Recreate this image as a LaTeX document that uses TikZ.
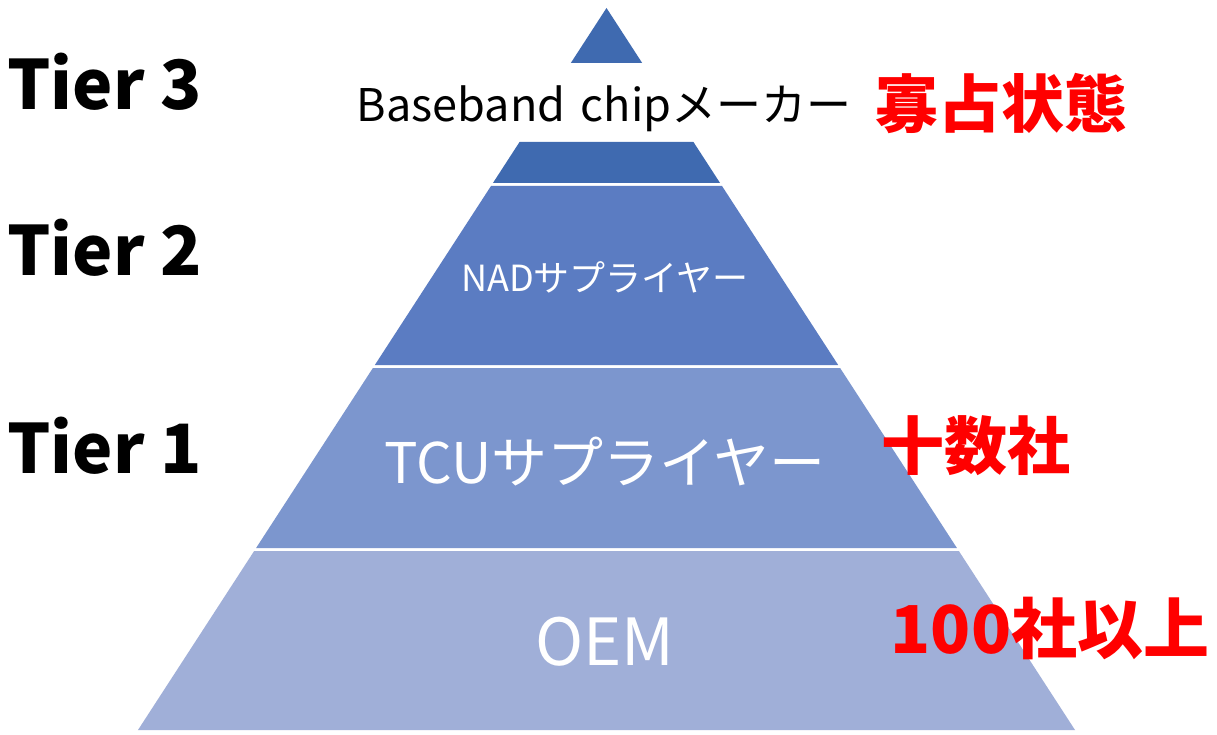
\documentclass[tikz,border=0pt]{standalone}
\usepackage{fontspec}
\setmainfont{Noto Sans CJK JP}
\begin{document}
\begin{tikzpicture}[x=1pt,y=-1pt]
\definecolor{cTop}{RGB}{63,106,176}
\definecolor{cNad}{RGB}{91,124,194}
\definecolor{cTcu}{RGB}{124,150,206}
\definecolor{cOem}{RGB}{160,175,216}
\definecolor{cRed}{RGB}{255,0,0}
\tikzset{
  band/.style={draw=none},
  tier/.style={font=\bfseries\fontsize{68}{68}\selectfont, anchor=base west, inner sep=0pt},
  lvl/.style={text=white, inner sep=0pt},
  note/.style={text=cRed, font=\bfseries\fontsize{63}{63}\selectfont, inner sep=0pt},
}
\useasboundingbox[fill=white] (0,0) rectangle (1217,735);
\def\cx{606.5}
\def\ap{8}
\def\sl{0.6489}
% top triangle
\fill[cTop] (\cx,\ap) -- ({\cx+(63-\ap)*\sl},63) -- ({\cx-(63-\ap)*\sl},63) -- cycle;
% bands
\foreach \ya/\yb/\cc in {142/183/cTop, 186/365/cNad, 368/548/cTcu, 551/730/cOem}{
  \fill[\cc] ({\cx-(\ya-\ap)*\sl},\ya) -- ({\cx+(\ya-\ap)*\sl},\ya) -- ({\cx+(\yb-\ap)*\sl},\yb) -- ({\cx-(\yb-\ap)*\sl},\yb) -- cycle;
}
% level texts
\node[anchor=base, inner sep=0pt, font=\fontsize{45}{45}\selectfont] (bb) at (604,122) {Baseband\hspace{0.12em} chipメーカー};
\node[lvl, anchor=base, font=\fontsize{36}{36}\selectfont] (nad) at (605,291) {NADサプライヤー};
\node[lvl, anchor=base, font=\fontsize{56}{56}\selectfont] (tcu) at (605,483) {TCUサプライヤー};
\node[lvl, anchor=base, font=\fontsize{65}{65}\selectfont] (oem) at (605,665) {OEM};
% tier labels
\node[tier] (t3) at (7,110) {Tier 3};
\node[tier] (t2) at (7,275) {Tier 2};
\node[tier] (t1) at (7,473) {Tier 1};
% notes
\node[note] (n3) at (1001,103) {寡占状態};
\node[note] (n1) at (976,446) {十数社};
\node[note, font=\bfseries\fontsize{66}{66}\selectfont] (n0) at (1050,628) {100社以上};
\end{tikzpicture}
\end{document}
